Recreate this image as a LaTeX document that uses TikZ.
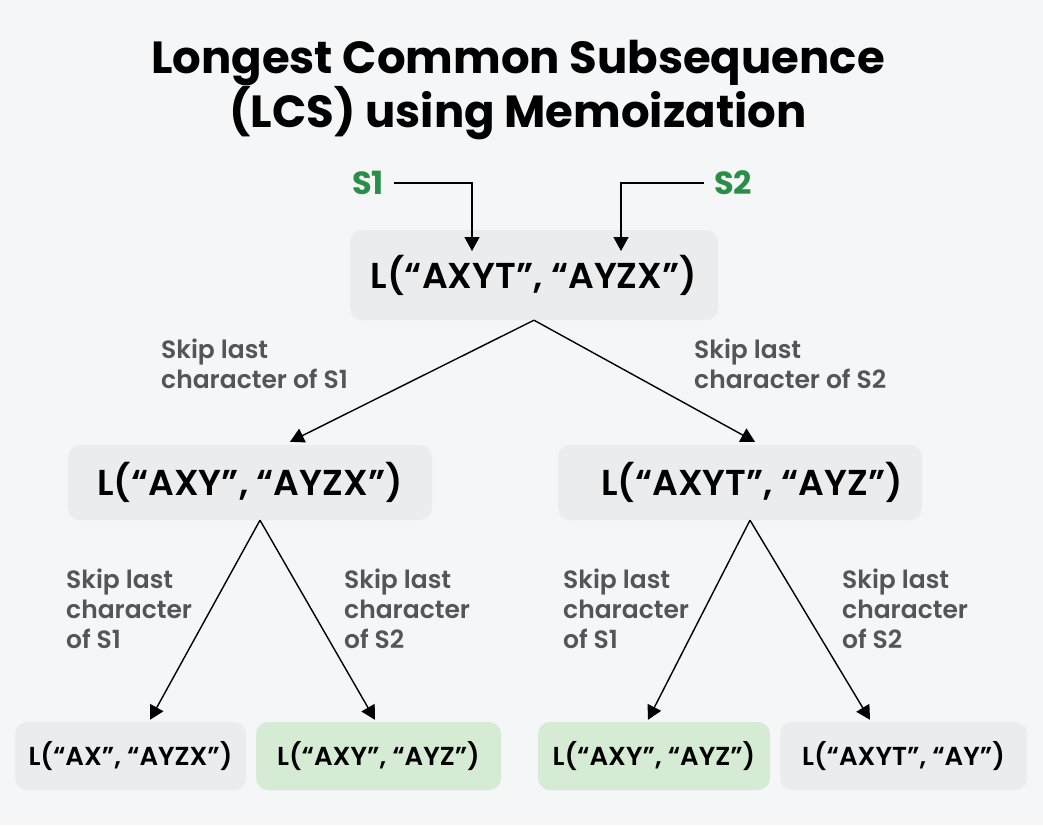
\documentclass[tikz,border=0pt]{standalone}
\usepackage{fontspec}
\setmainfont{Poppins}[BoldFont={Poppins Bold}]
\newfontfamily\poppinssb{Poppins SemiBold}
\usetikzlibrary{arrows.meta,positioning}
\definecolor{bgcol}{HTML}{F4F6F8}
\definecolor{boxgrey}{HTML}{EBECEE}
\definecolor{boxgreen}{HTML}{D5EBD3}
\definecolor{labgrey}{HTML}{555555}
\definecolor{sgreen}{HTML}{2B8E47}
\tikzset{
  callbox/.style={rounded corners=12pt, fill=boxgrey, inner sep=0pt, text=black},
  hitbox/.style={callbox, fill=boxgreen},
  leafbox/.style={minimum height=68pt, font=\poppinssb\fontsize{26}{30}\selectfont},
  skiplabel/.style={anchor=base west, align=left, inner sep=0pt, text=labgrey,
    font=\poppinssb\fontsize{25}{30}\selectfont},
  callarrow/.style={-{Triangle[length=14pt,width=15pt]}, line width=1.4pt},
  strname/.style={text=sgreen, font=\bfseries\fontsize{32}{36}\selectfont, inner sep=0pt}
}
\begin{document}
\begin{tikzpicture}[x=1pt,y=-1pt]
\useasboundingbox[fill=bgcol] (0,0) rectangle (1043,825);
\node[align=center, font=\bfseries\fontsize{45}{54}\selectfont, anchor=base] (title) at (518,127)
  {Longest Common Subsequence\\(LCS) using Memoization};

\node[strname] (s1) at (368,183) {S1};
\node[strname] (s2) at (733,183) {S2};

\node[callbox, minimum width=368pt, minimum height=90pt,
  font=\poppinssb\fontsize{36}{40}\selectfont] (root) at (534,275) {L(“AXYT”, “AYZX”)};
\coordinate (s1in) at (472,251);
\coordinate (s2in) at (621,251);
\draw[callarrow] ([xshift=10pt]s1.east) -| (s1in);
\draw[callarrow] ([xshift=-10pt]s2.west) -| (s2in);

\node[callbox, minimum width=364pt, minimum height=75pt,
  font=\poppinssb\fontsize{36}{40}\selectfont] (lft) at (250,482.5) {L(“AXY”, “AYZX”)};
\node[callbox, minimum width=364pt, minimum height=75pt,
  font=\poppinssb\fontsize{36}{40}\selectfont] (rgt) at (740,482.5) {\hspace{24pt}L(“AXYT”, “AYZ”)};

\node[callbox, leafbox, minimum width=231pt] (ax) at (130.5,756) {L(“AX”, “AYZX”)};
\node[hitbox, leafbox, minimum width=245pt] (axyl) at (378.5,756) {L(“AXY”, “AYZ”)};
\node[hitbox, leafbox, minimum width=232pt] (axyr) at (654,756) {L(“AXY”, “AYZ”)};
\node[callbox, leafbox, minimum width=247pt] (axyt) at (903.5,756) {L(“AXYT”, “AY”)};

\draw[callarrow] (root.south) -- ([xshift=40pt,yshift=3pt]lft.north);
\draw[callarrow] (root.south) -- ([xshift=15pt,yshift=3pt]rgt.north);
\draw[callarrow] ([xshift=10pt]lft.south) -- ([xshift=19.5pt,yshift=2pt]ax.north);
\draw[callarrow] ([xshift=10pt]lft.south) -- ([xshift=-3.5pt,yshift=2pt]axyl.north);
\draw[callarrow] ([xshift=10pt]rgt.south) -- ([xshift=-6pt,yshift=2pt]axyr.north);
\draw[callarrow] ([xshift=10pt]rgt.south) -- ([xshift=-33.5pt,yshift=2pt]axyt.north);

\node[skiplabel] (sk1) at (161,388) {Skip last\\character of S1};
\node[skiplabel] (sk2) at (694,388) {Skip last\\character of S2};
\node[skiplabel] (sk3) at (66,648) {Skip last\\character\\of S1};
\node[skiplabel] (sk4) at (344,648) {Skip last\\character\\of S2};
\node[skiplabel] (sk5) at (563,648) {Skip last\\character\\of S1};
\node[skiplabel] (sk6) at (842,648) {Skip last\\character\\of S2};
\end{tikzpicture}
\end{document}
